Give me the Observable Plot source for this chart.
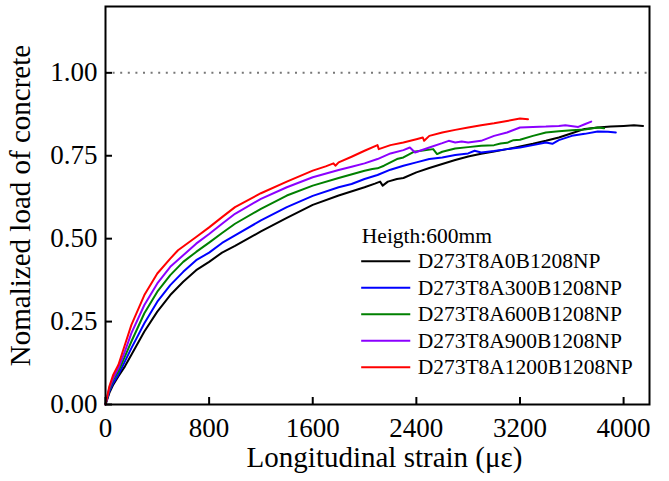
<!DOCTYPE html>
<html><head><meta charset="utf-8">
<script src="https://cdn.jsdelivr.net/npm/d3@7"></script>
<script src="https://cdn.jsdelivr.net/npm/@observablehq/plot@0.6"></script>
<style>body{margin:0;background:#fff;}</style>
</head><body><div id="chart"></div>
<script>
const seriesNames = ["D273T8A0B1208NP","D273T8A300B1208NP","D273T8A600B1208NP","D273T8A900B1208NP","D273T8A1200B1208NP"];
const seriesColors = ["#000000","#0000ff","#008000","#8b00ff","#ff0000"];
const xTicks = [0, 800, 1600, 2400, 3200, 4000];
const yTicks = [0, 0.25, 0.5, 0.75, 1.0];
const refLoad = [1.0];
const xTitle = "Longitudinal strain (με)";
const yTitle = "Nomalized load of concrete";
const legendTitle = "Heigth:600mm";

const a0Strain = [0,30,60,100,150,200,300,400,500,600,700,800,900,1000,1100,1200,1400,1600,1800,2000,2080,2120,2140,2180,2250,2300,2400,2500,2600,2700,2800,2900,3000,3100,3200,3300,3400,3500,3600,3700,3800,3900,4000,4080,4150];
const a0Load   = [0,0.035,0.06,0.085,0.115,0.15,0.22,0.28,0.33,0.37,0.405,0.43,0.458,0.478,0.50,0.522,0.563,0.602,0.63,0.655,0.666,0.672,0.66,0.672,0.68,0.683,0.70,0.713,0.725,0.737,0.748,0.756,0.763,0.77,0.778,0.786,0.795,0.805,0.818,0.831,0.835,0.838,0.84,0.842,0.84];

const a300Strain = [0,30,60,100,150,200,300,400,500,600,700,800,900,1000,1200,1400,1600,1800,1900,2000,2100,2200,2300,2400,2500,2600,2700,2800,2850,2900,3000,3100,3200,3300,3400,3450,3500,3600,3700,3800,3880,3940];
const a300Load   = [0,0.04,0.065,0.09,0.13,0.17,0.245,0.31,0.36,0.40,0.435,0.458,0.487,0.51,0.555,0.595,0.629,0.655,0.665,0.68,0.692,0.708,0.72,0.73,0.74,0.745,0.752,0.757,0.765,0.76,0.764,0.77,0.775,0.782,0.79,0.786,0.797,0.81,0.816,0.823,0.822,0.82];

const a600Strain = [0,30,60,100,150,200,300,400,500,600,700,800,900,1000,1200,1400,1600,1800,2000,2060,2100,2150,2250,2300,2380,2450,2530,2560,2600,2700,2800,2900,3000,3050,3100,3150,3200,3300,3400,3500,3600,3700,3800,3850];
const a600Load   = [0,0.045,0.075,0.10,0.145,0.19,0.275,0.34,0.39,0.43,0.46,0.488,0.517,0.545,0.59,0.63,0.66,0.683,0.705,0.71,0.712,0.72,0.74,0.745,0.762,0.766,0.77,0.755,0.762,0.772,0.776,0.78,0.782,0.787,0.789,0.797,0.798,0.81,0.82,0.824,0.827,0.829,0.835,0.833];

const a900Strain = [0,30,60,100,150,200,300,400,500,600,700,800,900,1000,1200,1400,1600,1800,1900,2000,2100,2200,2300,2350,2390,2450,2500,2600,2650,2700,2750,2800,2900,3000,3100,3200,3300,3400,3500,3550,3650,3700,3750];
const a900Load   = [0,0.05,0.08,0.11,0.16,0.215,0.30,0.365,0.415,0.45,0.485,0.514,0.545,0.575,0.62,0.655,0.685,0.707,0.717,0.727,0.74,0.757,0.767,0.775,0.76,0.768,0.775,0.788,0.795,0.79,0.793,0.79,0.795,0.81,0.82,0.835,0.837,0.838,0.84,0.842,0.837,0.845,0.853];

const a1200Strain = [0,30,60,100,150,200,300,400,500,560,700,800,900,1000,1200,1400,1600,1700,1760,1775,1800,1900,2000,2100,2110,2200,2300,2400,2450,2460,2500,2600,2700,2800,2900,3000,3100,3200,3262];
const a1200Load   = [0,0.055,0.09,0.12,0.18,0.24,0.33,0.395,0.44,0.465,0.505,0.534,0.565,0.595,0.637,0.672,0.705,0.718,0.727,0.72,0.73,0.747,0.765,0.782,0.77,0.782,0.79,0.80,0.805,0.795,0.81,0.82,0.828,0.835,0.842,0.848,0.855,0.862,0.86];

// legend layout (data units)
const legendHeadX = 1979, legendLineX0 = 1974, legendLineX1 = 2353, legendTextX = 2410;
const legendHeadY = 0.509, legendTopY = 0.4316, legendStep = 0.0798;

const strains = [a0Strain, a300Strain, a600Strain, a900Strain, a1200Strain];
const loads = [a0Load, a300Load, a600Load, a900Load, a1200Load];
const data = [];
seriesNames.forEach((name, i) => {
  strains[i].forEach((s, j) => data.push({series: name, strain: s, load: loads[i][j]}));
});
const legendRows = seriesNames.map((name, i) => ({name, y: legendTopY - i * legendStep}));

const W = 669, H = 481, mL = 105, mR = 20, mT = 6, mB = 77;
const tickLen = 7;

const chart = Plot.plot({
  width: W, height: H,
  marginLeft: mL, marginRight: mR, marginTop: mT, marginBottom: mB,
  x: {domain: [0, 4200]},
  y: {domain: [0, 1.2]},
  color: {domain: seriesNames, range: seriesColors},
  style: {fontFamily: "'Liberation Serif', 'Times New Roman', serif", fontSize: "27px", background: "#fff", color: "#000"},
  marks: [
    Plot.ruleY(refLoad, {y: d => d, stroke: "#777", strokeWidth: 2, strokeDasharray: "2,5.6"}),
    Plot.line(data, {x: "strain", y: "load", z: "series", stroke: "series", strokeWidth: 2}),
    Plot.axisX({ticks: xTicks, tickSize: 0, tickPadding: 13, tickFormat: d => String(d), label: null, fontSize: 27}),
    Plot.axisY({ticks: yTicks, tickSize: 0, tickPadding: 8, tickFormat: d => d.toFixed(2), label: null, fontSize: 27}),
    Plot.tickX(xTicks, {x: d => d, insetTop: H - mT - mB - tickLen, stroke: "#000", strokeWidth: 2}),
    Plot.tickY(yTicks, {y: d => d, insetRight: W - mL - mR - tickLen, stroke: "#000", strokeWidth: 2}),
    Plot.frame({stroke: "#000", strokeWidth: 2}),
    Plot.text([xTitle], {text: d => d, frameAnchor: "bottom", dx: 7, dy: 53, fontSize: 29, lineAnchor: "middle", textAnchor: "middle"}),
    Plot.text([yTitle], {text: d => d, frameAnchor: "left", dx: -85, rotate: -90, fontSize: 29, lineAnchor: "middle", textAnchor: "middle"}),
    Plot.text([legendTitle], {text: d => d, x: legendHeadX, y: legendHeadY, textAnchor: "start", fontSize: 21.5, lineAnchor: "middle"}),
    Plot.link(legendRows, {x1: legendLineX0, x2: legendLineX1, y1: d => d.y, y2: d => d.y, stroke: d => d.name, strokeWidth: 2}),
    Plot.text(legendRows, {x: legendTextX, y: d => d.y, text: d => d.name, textAnchor: "start", fontSize: 21.5, lineAnchor: "middle"})
  ]
});
document.getElementById("chart").appendChild(chart);
</script>
</body></html>
